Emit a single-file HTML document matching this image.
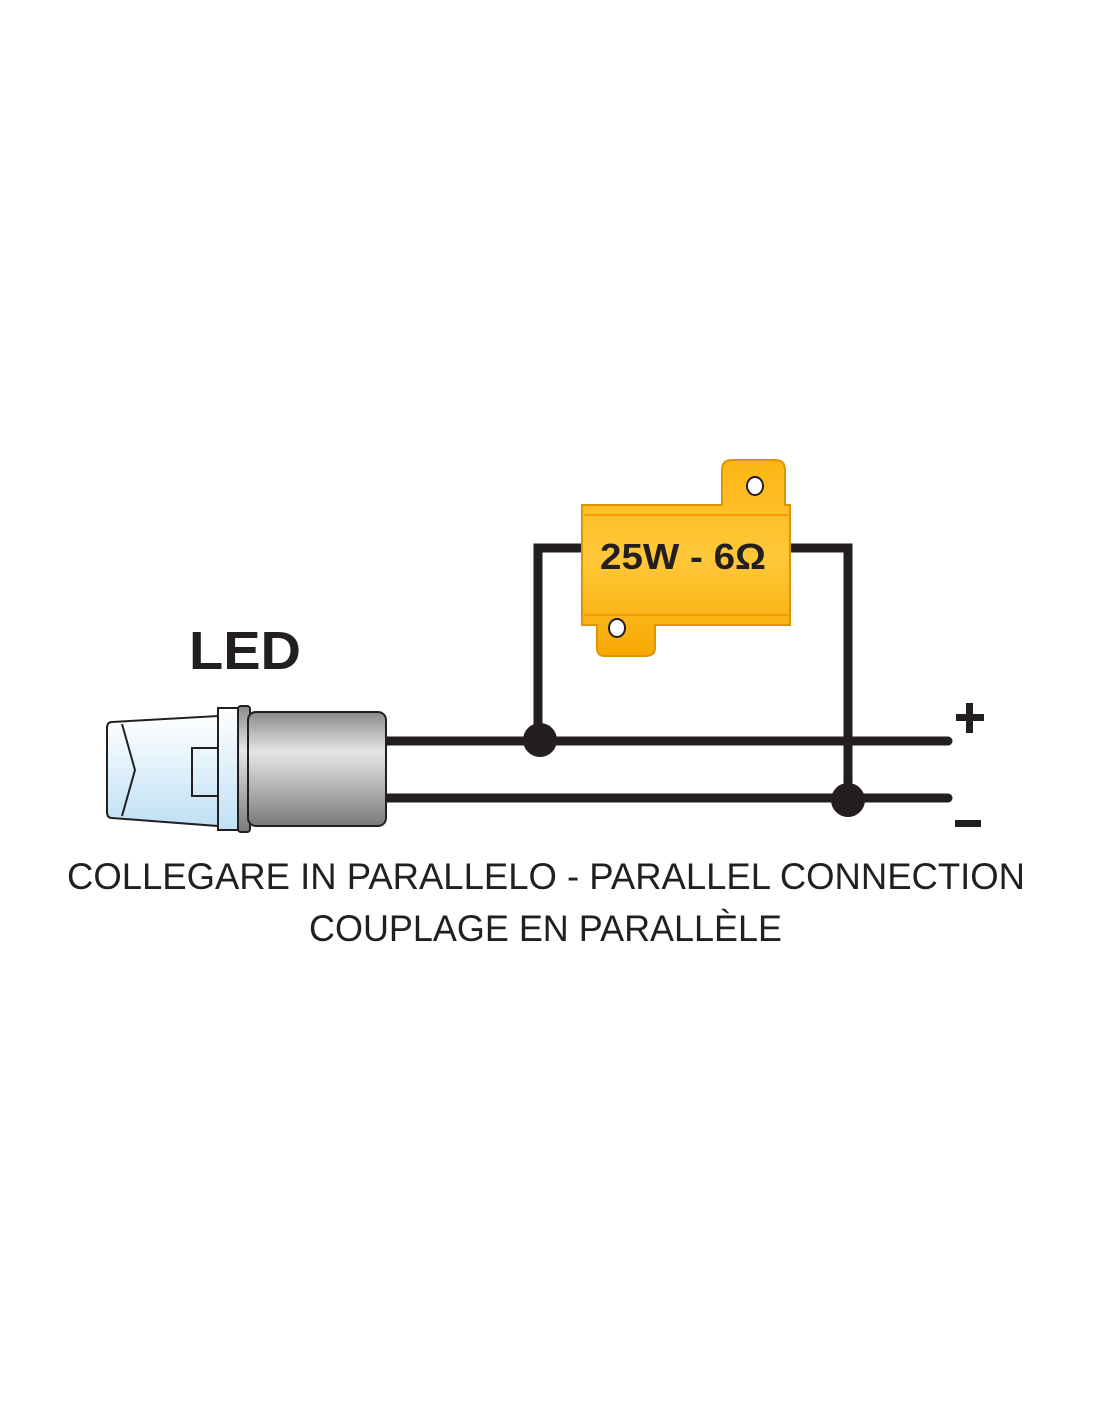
<!DOCTYPE html>
<html><head><meta charset="utf-8"><style>
html,body{margin:0;padding:0;background:#fff;}
svg{display:block;}
</style></head><body>
<svg width="1100" height="1422" viewBox="0 0 1100 1422" xmlns="http://www.w3.org/2000/svg">
<defs>
<linearGradient id="gr" x1="0" y1="0" x2="0" y2="1">
<stop offset="0" stop-color="#8a8a8a"/><stop offset="0.35" stop-color="#e6e6e6"/><stop offset="1" stop-color="#7a7a7a"/>
</linearGradient>
<linearGradient id="bl" x1="0" y1="0" x2="0" y2="1">
<stop offset="0" stop-color="#ffffff"/><stop offset="1" stop-color="#bfe0f5"/>
</linearGradient>
<linearGradient id="or" x1="0" y1="0" x2="0" y2="1">
<stop offset="0" stop-color="#fdb515"/><stop offset="0.5" stop-color="#ffc83a"/><stop offset="1" stop-color="#f7a800"/>
</linearGradient>
</defs>
<g stroke="#231f20" stroke-width="9" fill="none" stroke-linecap="round">
<polyline points="585,548 538,548 538,740"/>
<polyline points="785,548 848,548 848,800"/>
<line x1="385" y1="741" x2="948" y2="741"/>
<line x1="385" y1="798" x2="948" y2="798"/>
</g>
<circle cx="540" cy="740" r="17" fill="#231f20"/>
<circle cx="848" cy="800" r="17" fill="#231f20"/>
<g stroke="#e09500" stroke-width="2" fill="url(#or)">
<path d="M722,470 Q722,460 732,460 L775,460 Q785,460 785,470 L785,505 L790,505 L790,625 L655,625 L655,648 Q655,656 645,656 L605,656 Q597,656 597,648 L597,625 L582,625 L582,505 L722,505 Z"/>
</g>
<line x1="584" y1="515" x2="788" y2="515" stroke="#f49c00" stroke-width="2"/>
<line x1="584" y1="615" x2="788" y2="615" stroke="#f49c00" stroke-width="2"/>
<ellipse cx="755" cy="486" rx="8" ry="9" fill="#fff" stroke="#231f20" stroke-width="2"/>
<ellipse cx="617" cy="628" rx="8" ry="9" fill="#fff" stroke="#231f20" stroke-width="2"/>
<text x="683" y="569" text-anchor="middle" font-family="Liberation Sans, sans-serif" font-weight="bold" font-size="36" fill="#231f20" textLength="166" lengthAdjust="spacingAndGlyphs">25W - 6Ω</text>
<path d="M112,722 L218,716 L218,826 L112,818 Q107,818 107,812 L107,728 Q107,722 112,722 Z" fill="url(#bl)" stroke="#231f20" stroke-width="2"/>
<polyline points="122,724 135,770 122,816" fill="none" stroke="#231f20" stroke-width="2"/>
<rect x="192" y="748" width="40" height="48" fill="none" stroke="#231f20" stroke-width="2"/>
<rect x="218" y="708" width="22" height="122" fill="url(#bl)" stroke="#231f20" stroke-width="2"/>
<rect x="238" y="706" width="12" height="126" rx="3" fill="url(#gr)" stroke="#231f20" stroke-width="2"/>
<rect x="248" y="712" width="138" height="114" rx="8" fill="url(#gr)" stroke="#231f20" stroke-width="2"/>
<text x="189" y="669" font-family="Liberation Sans, sans-serif" font-weight="bold" font-size="54" fill="#231f20" textLength="112" lengthAdjust="spacingAndGlyphs">LED</text>
<rect x="956" y="714" width="28" height="7" fill="#231f20"/>
<rect x="966" y="703" width="7" height="30" fill="#231f20"/>
<rect x="955" y="820" width="26" height="7" fill="#231f20"/>
<g font-family="Liberation Sans, sans-serif" font-size="37" fill="#231f20">
<text x="67" y="889" textLength="958" lengthAdjust="spacingAndGlyphs">COLLEGARE IN PARALLELO - PARALLEL CONNECTION</text>
<text x="309" y="941" textLength="473" lengthAdjust="spacingAndGlyphs">COUPLAGE EN PARALLÈLE</text>
</g>
</svg>
</body></html>
